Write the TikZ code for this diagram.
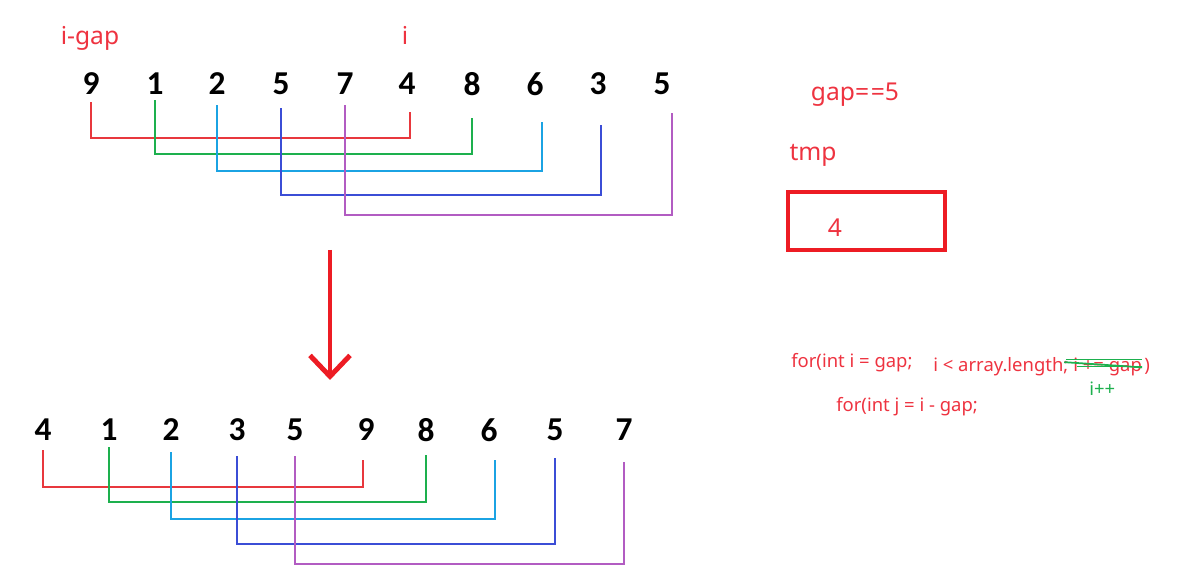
\documentclass[tikz,border=0pt]{standalone}
\usepackage{fontspec}
\setmainfont{Noto Sans}
\newfontfamily\digitfont{Carlito}
\usepackage{tikz}
\usetikzlibrary{arrows.meta, positioning}
\definecolor{inkred}{HTML}{ED1C24}
\definecolor{txtred}{HTML}{EE3340}
\definecolor{linered}{HTML}{E8383D}
\definecolor{linegreen}{HTML}{1DB04E}
\definecolor{linecyan}{HTML}{1BA3E3}
\definecolor{lineblue}{HTML}{3B4DD6}
\definecolor{linepurple}{HTML}{B25CC2}

\begin{document}
\begin{tikzpicture}[
    x=0.02cm, y=-0.02cm,
    num/.style={font=\digitfont\bfseries\fontsize{19}{19}\selectfont,
                inner sep=0pt, minimum height=0.64cm},
    lbl/.style={font=\fontsize{14}{14}\selectfont, text=txtred, inner sep=0pt},
    codetxt/.style={font=\fontsize{10.5}{10.5}\selectfont, text=txtred,
                    inner sep=0pt, anchor=base west},
    pair/.style={line width=1.2pt},
    tmpbox/.style={draw=inkred, line width=2.8pt, minimum width=3.14cm,
                   minimum height=1.16cm, inner sep=0pt},
    bigarrow/.style={-{Straight Barb[length=0.42cm, width=0.8cm]},
                     draw=inkred, line width=2.8pt},
    strike/.style={draw=linegreen, line width=1pt}
]
\useasboundingbox (0,0) rectangle (1184,580);

% before: the array and the pairs gap apart
\foreach \x/\v [count=\k] in {91/9,155/1,217/2,281/5,345/7,407/4,472/8,535/6,598/3,662/5}
    \node[num] (t\k) at (\x,84) {\v};

\node[lbl] (igap) at (90,38) {i-gap};
\node[lbl] (ilbl) at (405,35) {i};

\draw[pair, linered, shorten <=0.04cm, shorten >=0.24cm]
    (t1.south) -- ++(0,38) -| ([xshift=0.06cm]t6.south);
\draw[pair, linegreen, shorten >=0.36cm]
    (t2.south) -- ++(0,54) -| (t7.south);
\draw[pair, linecyan, shorten <=0.1cm, shorten >=0.44cm]
    (t3.south) -- ++(0,71) -| ([xshift=0.14cm]t8.south);
\draw[pair, lineblue, shorten <=0.16cm, shorten >=0.5cm]
    (t4.south) -- ++(0,95) -| ([xshift=0.06cm]t9.south);
\draw[pair, linepurple, shorten <=0.1cm, shorten >=0.26cm]
    (t5.south) -- ++(0,115) -| ([xshift=0.2cm]t10.south);

% the step down
\coordinate (arrtop) at (330,250);
\coordinate (arrbot) at (330,380);
\draw[bigarrow] (arrtop) -- (arrbot);

% after: the array once the pairs are swapped
\foreach \x/\v [count=\k] in {43/4,109/1,171/2,237/3,295/5,366/9,426/8,489/6,555/5,624/7}
    \node[num] (b\k) at (\x,430) {\v};

\draw[pair, linered, shorten <=0.08cm, shorten >=0.28cm]
    (b1.south) -- ++(0,41) -| ([xshift=-0.06cm]b6.south);
\draw[pair, linegreen, shorten <=0.02cm, shorten >=0.18cm]
    (b2.south) -- ++(0,56) -| (b7.south);
\draw[pair, linecyan, shorten <=0.12cm, shorten >=0.28cm]
    (b3.south) -- ++(0,73) -| ([xshift=0.12cm]b8.south);
\draw[pair, lineblue, shorten <=0.2cm, shorten >=0.24cm]
    (b4.south) -- ++(0,98) -| (b9.south);
\draw[pair, linepurple, shorten <=0.2cm, shorten >=0.32cm]
    (b5.south) -- ++(0,118) -| (b10.south);

% gap and tmp
\node[lbl] (gapval) at (855,95) {gap=\kern1pt=5};
\node[lbl] (tmplbl) at (813,155) {tmp};
\node[tmpbox] (tmpbox) at (866.5,221) {};
\node[lbl] (tmpval) at (835,228) {4};

% loop heads
\node[codetxt] (forI) at (791,368) {for(int i = gap;};
\node[codetxt] (cond) at (933,372) {i < array.length;};
\node[codetxt] (incr) at (1073,372) {i += gap};
\node[codetxt, right=1pt of incr.base east, anchor=base west] (closep) {)};
\node[codetxt, text=linegreen] (incnew) at (1089,396) {i++};
\node[codetxt] (forJ) at (836,412) {for(int j = i - gap;};

\draw[strike] ([xshift=-4pt, yshift=4.5pt]incr.west) -- ([yshift=4.5pt]incr.east);
\draw[strike] ([xshift=-5pt, yshift=3pt]incr.west) -- ([yshift=0pt]incr.east);
\draw[strike] ([xshift=2pt, yshift=0.5pt]incr.west) -- ([yshift=0.5pt]incr.east);
\end{tikzpicture}
\end{document}
